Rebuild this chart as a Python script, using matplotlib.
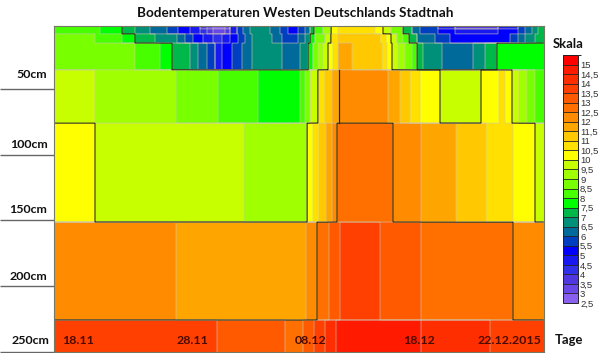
import numpy as np
import matplotlib
matplotlib.use("Agg")
import matplotlib.pyplot as plt
from matplotlib.colors import ListedColormap, BoundaryNorm
from matplotlib.cm import ScalarMappable

title = "Bodentemperaturen Westen Deutschlands Stadtnah"
depth_ticks = [50, 100, 150, 200, 250]
depth_labels = ["50cm", "100cm", "150cm", "200cm", "250cm"]
date_labels = ["18.11", "28.11", "08.12", "18.12", "22.12.2015"]
date_pos = [62, 177, 295, 403, 478]
level_labels = ["2,5", "3", "3,5", "4", "4,5", "5", "5,5", "6", "6,5", "7", "7,5", "8", "8,5",
                "9", "9,5", "10", "10,5", "11", "11,5", "12", "12,5", "13", "13,5", "14", "14,5", "15"]
levels = [2.5 + 0.5 * i for i in range(27)]
band_colors = ["#8a60f0", "#6a48e8", "#5038e0", "#3030e8", "#1818f0", "#0000ff", "#0040c0", "#006a9a",
               "#008f78", "#00b84a", "#00ff00", "#48ff00", "#78ff00", "#a0ff00", "#c8ff00", "#ffff00",
               "#ffe000", "#ffc800", "#ffa500", "#ff8c00", "#ff7000", "#ff5a00", "#ff4000", "#ff2e00",
               "#ff1a00", "#ff0000"]

# depth layer boundaries (cm)
layer_edges = [2, 4.3, 8, 15, 35.5, 76, 151.4, 226, 252]

# per layer: right end of each run on the time scale, and its temperature band
l0_end = [100, 122, 135, 150, 167, 178, 190, 200, 207, 213, 225, 230, 237, 243, 250, 270, 280, 288, 298, 305, 310, 314, 323, 331, 338, 375, 383, 391, 403, 412, 420, 438, 455, 498, 518, 525, 532, 538, 544]
l0_val = [8, 7.5, 7, 6.5, 6, 5.5, 5, 4.5, 3.5, 3, 2.5, 3, 4.5, 5.5, 6, 6.5, 6, 5.5, 5, 5.5, 6, 7, 8, 9, 10, 10.5, 10, 9.5, 8.5, 7, 6, 5.5, 4.5, 3.5, 4.5, 5.5, 6, 6.5, 7]
l1_end = [100, 122, 135, 150, 167, 178, 190, 200, 207, 213, 225, 230, 237, 243, 250, 270, 280, 288, 298, 305, 310, 314, 323, 331, 338, 375, 383, 391, 403, 412, 420, 438, 455, 498, 518, 525, 532, 538, 544]
l1_val = [8, 7.5, 7, 6.5, 6, 5.5, 5, 4.5, 4, 3.5, 3, 3.5, 4.5, 5.5, 6, 6.5, 6, 5.5, 5, 5.5, 6, 7, 8, 9, 10, 10.5, 10, 9.5, 8.5, 7, 6, 5.5, 5, 4.5, 5, 5.5, 6, 6.5, 7]
l2_end = [95, 122, 135, 155, 177, 185, 193, 203, 213, 222, 230, 238, 245, 252, 272, 282, 298, 305, 310, 315, 325, 331, 338, 380, 386, 391, 397, 403, 409, 417, 435, 450, 510, 518, 525, 535, 544]
l2_val = [8.5, 8, 7.5, 7, 6.5, 6, 5.5, 5, 4.5, 4, 4.5, 5, 5.5, 6, 6.5, 6, 5.5, 6, 6.5, 7.5, 8.5, 9.5, 10.5, 11, 10.5, 10, 9.5, 8.5, 8, 7, 6, 5.5, 5, 5.5, 6, 6.5, 7]
l3_end = [135, 148, 160, 172, 182, 190, 198, 207, 215, 222, 232, 242, 252, 282, 300, 308, 313, 318, 323, 328, 333, 338, 352, 382, 387, 392, 398, 405, 412, 417, 423, 442, 473, 485, 497, 544]
l3_val = [8.5, 8, 8, 7.5, 7, 7, 6.5, 6, 5.5, 4.5, 5, 5.5, 6, 6.5, 6, 6.5, 7.5, 8.5, 9, 9.5, 10, 10.5, 11.5, 11, 10.5, 10, 9.5, 9, 8.5, 8, 7, 6.5, 6, 6.5, 7, 7.5]
l4_end = [95, 176, 218, 258, 300, 305, 310, 318, 325, 332, 339, 388, 400, 410, 420, 440, 481, 499, 505, 512, 519, 527, 535, 544]
l4_val = [9.5, 9, 8.5, 8, 7.5, 8, 8.5, 9.5, 10.5, 11, 11.5, 12, 11.5, 11, 10.5, 10, 9.5, 10, 10.5, 10, 9.5, 9, 8.5, 8]
l5_end = [95, 244, 307, 313, 319, 326, 332, 337, 393, 421, 456, 486, 513, 535, 544]
l5_val = [10, 9.5, 9, 10, 10.5, 11, 11.5, 12, 12.5, 12, 11.5, 11, 10.5, 10, 9.5]
l6_end = [176, 306, 317, 329, 340, 380, 421, 513, 544]
l6_val = [12, 11.5, 12, 12.5, 13, 13.5, 13, 12.5, 12]
l7_end = [217, 285, 303, 314, 325, 336, 421, 490, 544]
l7_val = [13.5, 13, 12.5, 13, 13.5, 14, 14.5, 14, 13.5]

# 12-degree isotherm flank read from the 35-76 cm layer
iso12_x = [339, 339]
iso12_d = [35.5, 76]

layers_end = [l0_end, l1_end, l2_end, l3_end, l4_end, l5_end, l6_end, l7_end]
layers_val = [l0_val, l1_val, l2_val, l3_val, l4_val, l5_val, l6_val, l7_val]

x = np.arange(54.25, 544, 0.5)
y = np.arange(2.1, 252, 0.2)
Z = np.zeros((len(y), len(x)))
for i, d in enumerate(y):
    k = min(np.searchsorted(layer_edges, d, side="right") - 1, 7)
    ends = np.array(layers_end[k])
    vals = np.array(layers_val[k]) + 0.25
    Z[i] = vals[np.clip(np.searchsorted(ends, x), 0, len(vals) - 1)]

plt.rcParams["font.family"] = ["Lato", "DejaVu Sans"]
W, H = 600, 353
fig = plt.figure(figsize=(W / 100, H / 100), dpi=100)
ax = fig.add_axes([54 / W, 1 - 351.5 / H, 490 / W, 325.5 / H])
cmap = ListedColormap(band_colors)
norm = BoundaryNorm(levels, cmap.N)
ax.pcolormesh(x, y, Z, cmap=cmap, norm=norm, shading="nearest", rasterized=True)
ax.contour(x, y, Z, levels=levels, colors="#d0c8b4", linewidths=0.7, alpha=0.6)
ax.contour(x, y, Z, levels=[7.5, 10, 12.5], colors="#202000", linewidths=0.7)
ax.plot(iso12_x, iso12_d, color="#402000", lw=0.9)
ax.set_xlim(54, 544)
ax.set_ylim(250, 2)
ax.set_xticks([])
ax.set_yticks(depth_ticks)
ax.set_yticklabels([])
ax.tick_params(axis="y", length=38.9, width=1, color="#666666", direction="out")
for s in ax.spines.values():
    s.set_color("#777766")
    s.set_linewidth(0.8)

label_right = [47, 48, 47, 47, 49]
label_y = [75, 144, 210, 276, 340]
for t, r, ly in zip(depth_labels, label_right, label_y):
    fig.text(r / W, 1 - ly / H, t, ha="right", va="center", fontsize=8.9, fontweight="bold", color="#111111")
for t, p in zip(date_labels, date_pos):
    fig.text(p / W, 1 - 340 / H, t, ha="left", va="center", fontsize=8.9, fontweight="bold", color="#4a0a00")
fig.text(295.5 / W, 1 - 13 / H, title, ha="center", va="center", fontsize=9.7, fontweight="bold", color="#111111")
fig.text(553 / W, 1 - 44 / H, "Skala", ha="left", va="center", fontsize=9.4, fontweight="bold", color="#111111")
fig.text(555 / W, 1 - 340 / H, "Tage", ha="left", va="center", fontsize=9.4, fontweight="bold", color="#111111")

cax = fig.add_axes([563 / W, 1 - 303 / H, 15 / W, 248 / H])
cb = fig.colorbar(ScalarMappable(norm=norm, cmap=cmap), cax=cax, ticks=levels[:-1], drawedges=True, spacing="uniform")
cb.ax.set_yticklabels(level_labels, fontsize=6.8, family="Liberation Sans", color="#333333")
cb.ax.tick_params(length=0, pad=1.5)
cb.outline.set_edgecolor("#222222")
cb.outline.set_linewidth(0.7)
cb.dividers.set_color("#222222")
cb.dividers.set_linewidth(0.6)

fig.savefig("out.png", dpi=100)
